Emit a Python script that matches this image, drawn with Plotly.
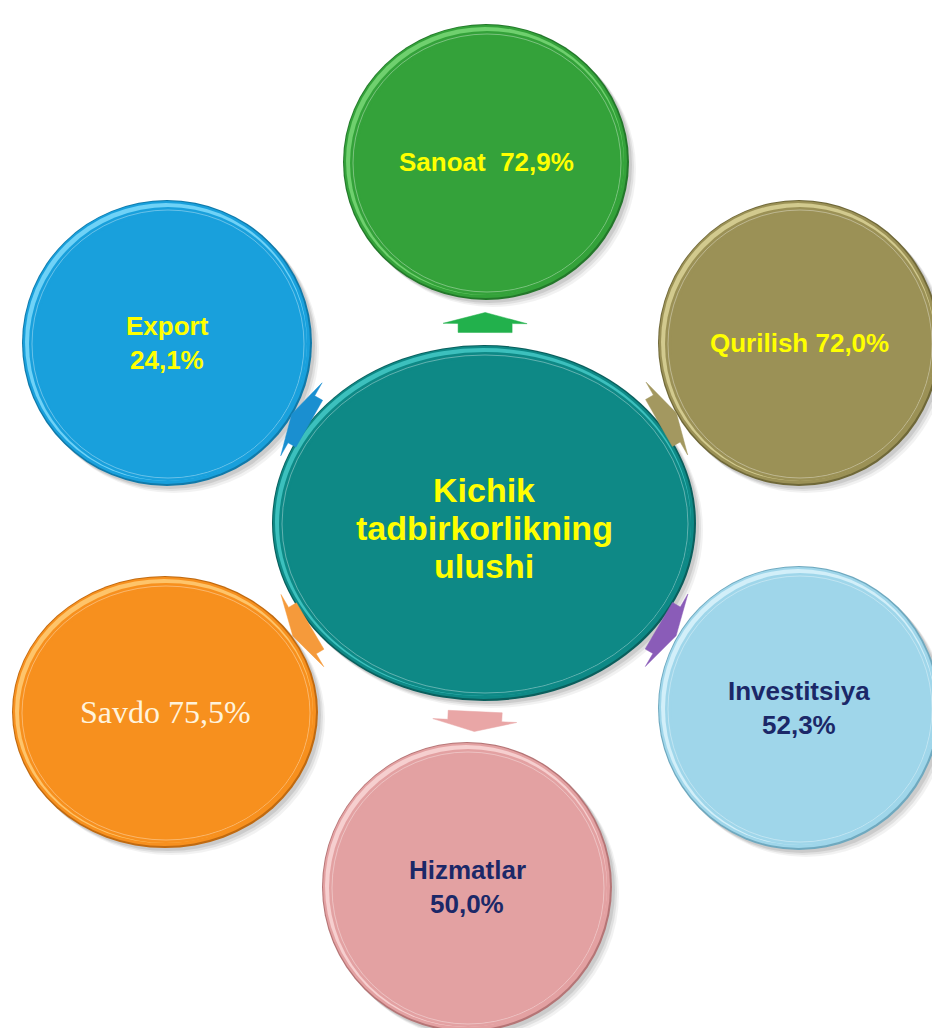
import math
import plotly.graph_objects as go

# data
labels = ["Sanoat", "Qurilish", "Investitsiya", "Hizmatlar", "Savdo", "Export"]
shares = [72.9, 72.0, 52.3, 50.0, 75.5, 24.1]
center_lines = ["Kichik", "tadbirkorlikning", "ulushi"]

# layout of the diagram (pixel units)
W, H = 940, 1028
PAD = 8  # page body margin of the html
separators = ["  ", " ", "\n", "\n", " ", "\n"]
centers = [(486, 162), (799, 343), (799, 708), (467, 887), (165, 712), (167, 343)]
radii = [(143, 138), (141, 143), (141, 142), (145, 145), (153, 136), (145, 143)]
fills = ["#34a23a", "#9b9156", "#9fd6ea", "#e3a1a2", "#f7901e", "#19a0dc"]
rims = ["#6fd06e", "#d2ca8e", "#d2eff9", "#f6cfcf", "#fec46a", "#6fd2f7"]
edges = ["#23782a", "#6f6838", "#6fa9bf", "#b57576", "#c06a10", "#107aaa"]
arrow_colors = ["#22b14c", "#a39860", "#8a5cb8", "#e9a6a6", "#f59a3b", "#1a8fd0"]
text_colors = ["#ffff00", "#ffff00", "#1b2868", "#1b2868", "#fff3dc", "#ffff00"]
text_fonts = ["Arial, Liberation Sans", "Arial, Liberation Sans", "Arial, Liberation Sans",
              "Arial, Liberation Sans", "Times New Roman, Liberation Serif", "Arial, Liberation Sans"]
text_bold = [True, True, True, True, False, True]
text_sizes = [26, 26, 26, 26, 32, 26]

hub = (484, 523)
hub_r = (212, 178)
hub_fill, hub_rim, hub_edge = "#0e8986", "#3cc0bd", "#0a5f5d"

fig = go.Figure()
shapes = []


def ell(cx, cy, rx, ry, **kw):
    shapes.append(dict(type="circle", xref="x", yref="y",
                       x0=cx - rx, x1=cx + rx, y0=cy - ry, y1=cy + ry,
                       layer="above", **kw))


def disc(cx, cy, rx, ry, fill, rim, edge):
    # soft drop shadow
    for off, a in [(7, 0.05), (5, 0.07), (3, 0.09)]:
        ell(cx + off, cy + off, rx, ry, fillcolor=f"rgba(0,0,0,{a})", line=dict(width=0))
    # bevel: dark edge, light rim, then the face shifted to the lower right
    ell(cx, cy, rx, ry, fillcolor=edge, line=dict(width=0))
    ell(cx - 0.5, cy - 0.5, rx - 1.5, ry - 1.5, fillcolor=fill, line=dict(width=0))
    ell(cx - 1, cy - 1, rx - 4, ry - 4, fillcolor=rim, line=dict(width=0))
    ell(cx + 1, cy + 1, rx - 6, ry - 6, fillcolor=fill, line=dict(width=0))
    ell(cx + 1, cy + 1, rx - 9, ry - 9, fillcolor=fill,
        line=dict(color="rgba(255,255,255,0.35)", width=1))
    ell(cx + 2, cy + 2, rx - 11, ry - 11, fillcolor=fill, line=dict(width=0))


def text_block(cx, cy, lines, size, color, family, bold, spacing):
    n = len(lines)
    for i, ln in enumerate(lines):
        y = cy + (i - (n - 1) / 2) * spacing
        fig.add_annotation(x=cx, y=y, xref="x", yref="y", showarrow=False,
                           text=f"<b>{ln}</b>" if bold else ln,
                           font=dict(size=size, color=color, family=family),
                           xanchor="center", yanchor="middle")


for i in range(len(labels)):
    cx, cy = centers[i]
    rx, ry = radii[i]
    disc(cx, cy, rx, ry, fills[i], rims[i], edges[i])

disc(hub[0], hub[1], hub_r[0], hub_r[1], hub_fill, hub_rim, hub_edge)

# small arrows in the gaps, pointing from the hub to each circle
for i in range(len(labels)):
    cx, cy = centers[i]
    rx, ry = radii[i]
    dx, dy = cx - hub[0], cy - hub[1]
    d = math.hypot(dx, dy)
    ux, uy = dx / d, dy / d
    px, py = -uy, ux
    t_hub = 1 / math.sqrt((ux / hub_r[0]) ** 2 + (uy / hub_r[1]) ** 2)
    t_out = d - 1 / math.sqrt((ux / rx) ** 2 + (uy / ry) ** 2)
    mid = (t_hub + t_out) / 2
    pts_local = [(-10, -27), (-1, -27), (-1, -42), (10, 0), (-1, 42), (-1, 27), (-10, 27)]
    pts = [(hub[0] + ux * (mid + a) + px * b, hub[1] + uy * (mid + a) + py * b)
           for a, b in pts_local]
    path = "M " + " L ".join(f"{x:.1f},{y:.1f}" for x, y in pts) + " Z"
    shapes.append(dict(type="path", xref="x", yref="y", path=path,
                       fillcolor=arrow_colors[i], line=dict(color=arrow_colors[i], width=0.5),
                       layer="above"))

for i in range(len(labels)):
    cx, cy = centers[i]
    val = f"{shares[i]:.1f}".replace(".", ",") + "%"
    lines = (labels[i] + separators[i] + val).split("\n")
    text_block(cx, cy, lines, text_sizes[i], text_colors[i], text_fonts[i],
               text_bold[i], text_sizes[i] * 1.28)

text_block(hub[0], hub[1] + 5, center_lines, 34, "#ffff00", "Arial, Liberation Sans", True, 38)

fig.update_layout(
    width=W - PAD, height=H - PAD,
    margin=dict(l=0, r=0, t=0, b=0),
    paper_bgcolor="white", plot_bgcolor="white",
    xaxis=dict(range=[PAD, W], visible=False, fixedrange=True),
    yaxis=dict(range=[H, PAD], visible=False, fixedrange=True),
    shapes=shapes,
    showlegend=False,
)

fig.write_html("out.html")
